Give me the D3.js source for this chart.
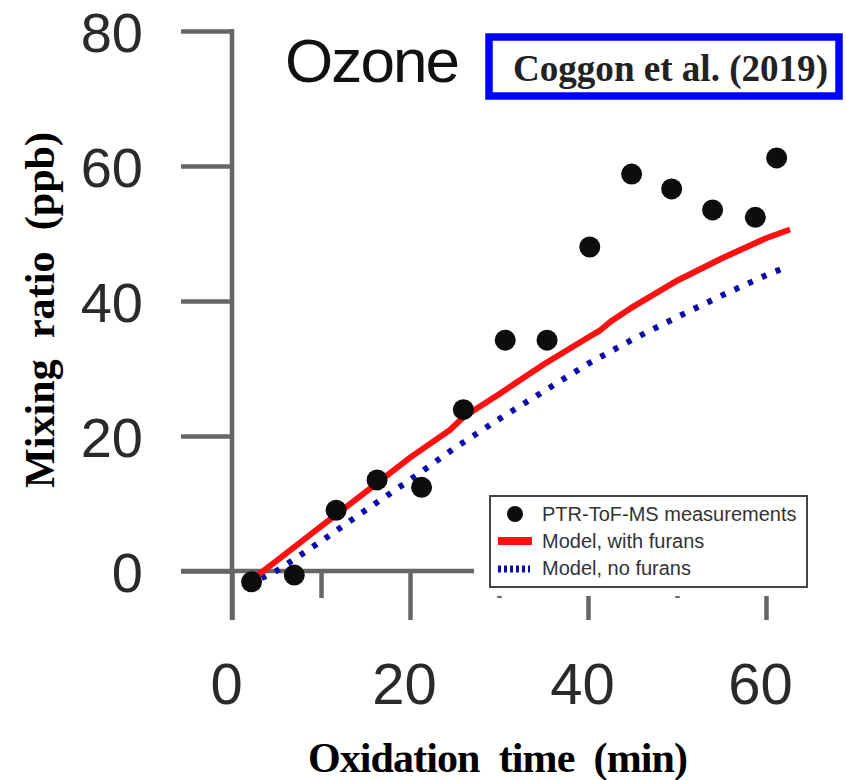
<!DOCTYPE html>
<html lang="en">
<head>
<meta charset="UTF-8">
<title>Ozone - Coggon et al. (2019)</title>
<script src="https://d3js.org/d3.v7.min.js"></script>
<style>
  body { margin: 0; background: #fff; }
  svg { display: block; }
  .axis text { font-family: "Liberation Sans", Arial, sans-serif; font-size: 58px; fill: #2a2a2a; }
  .y-axis text { font-size: 56px; }
  .axis line { stroke: #666; stroke-width: 4.5; }
  .axis-title { font-family: "Liberation Serif", "Times New Roman", serif; font-weight: bold; font-size: 42px; fill: #000; white-space: pre; }
  .legend-text { font-family: "Liberation Sans", Arial, sans-serif; font-size: 20px; fill: #333; }
</style>
</head>
<body>
<svg width="846" height="780"></svg>
<script>
// PTR-ToF-MS measured ozone (ppb) vs oxidation time (min)
const measTime  = [2.2, 7.0, 11.7, 16.3, 21.3, 26.0, 30.7, 35.4, 40.2, 44.9, 49.4, 54.0, 58.8, 61.2];
const measOzone = [-1.6, -0.6, 9.0, 13.5, 12.4, 23.9, 34.2, 34.2, 48.0, 58.8, 56.6, 53.5, 52.4, 61.2];

// model, with furans
const furTime  = [1.5, 5, 10, 15, 20, 24.5, 26, 30, 35, 40, 41.3, 42.6, 45, 50, 55, 60, 62.7];
const furOzone = [-2.0, 1.5, 6.6, 11.7, 16.8, 20.9, 22.8, 26.2, 30.6, 34.6, 35.6, 37.0, 39.1, 43.0, 46.3, 49.3, 50.6];

// model, no furans
const noFurTime  = [1.8, 5, 10, 15, 20, 25, 30, 35, 40, 45, 50, 55, 60, 62.2];
const noFurOzone = [-2.0, 0.0, 4.4, 9.0, 13.5, 18.2, 22.5, 26.6, 30.7, 34.3, 37.6, 40.8, 43.8, 45.0];

const xTicks = [0, 20, 40, 60];
const xMinor = [10, 30, 50];
const yTicks = [0, 20, 40, 60, 80];

const svg = d3.select("svg");

const x = d3.scaleLinear().domain([0, 60]).range([232, 766]);
const y = d3.scaleLinear().domain([0, 80]).range([571, 31]);

// y axis
const yAxis = d3.axisLeft(y).tickValues(yTicks).tickSize(51).tickSizeOuter(0).tickPadding(38);
const gy = svg.append("g").attr("class", "axis y-axis").attr("transform", `translate(${x(0)},0)`).call(yAxis);
gy.select(".domain").remove();
gy.selectAll("text").attr("dy", "0.37em");
svg.append("line")
    .attr("x1", x(0)).attr("x2", x(0))
    .attr("y1", y(80) - 2).attr("y2", y(0) + 49)
    .attr("stroke", "#666").attr("stroke-width", 4.5);

// x axis
const xAxis = d3.axisBottom(x).tickValues(xTicks).tickSize(49).tickSizeOuter(0).tickPadding(43);
const gx = svg.append("g").attr("class", "axis").attr("transform", `translate(0,${y(0)})`).call(xAxis);
gx.select(".domain").remove();
gx.selectAll("text").attr("dx", -6);
const xMinorAxis = d3.axisBottom(x).tickValues(xMinor).tickSize(27).tickSizeOuter(0).tickFormat("");
const gxm = svg.append("g").attr("class", "axis").attr("transform", `translate(0,${y(0)})`).call(xMinorAxis);
gxm.select(".domain").remove();
svg.append("line")
    .attr("x1", x(0) - 51).attr("x2", x(62))
    .attr("y1", y(0)).attr("y2", y(0))
    .attr("stroke", "#666").attr("stroke-width", 4.5);

// model lines
const line = d3.line().x(d => x(d[0])).y(d => y(d[1]));
svg.append("path")
    .datum(noFurTime.map((t, i) => [t, noFurOzone[i]]))
    .attr("d", line)
    .attr("fill", "none")
    .attr("stroke", "#0b0ba6")
    .attr("stroke-width", 6)
    .attr("stroke-dasharray", "5,10");
svg.append("path")
    .datum(furTime.map((t, i) => [t, furOzone[i]]))
    .attr("d", line)
    .attr("fill", "none")
    .attr("stroke", "#ff1010")
    .attr("stroke-width", 6);

// measurements
svg.selectAll(".meas")
    .data(measTime.map((t, i) => [t, measOzone[i]]))
    .join("circle")
    .attr("class", "meas")
    .attr("cx", d => x(d[0]))
    .attr("cy", d => y(d[1]))
    .attr("r", 10.5)
    .attr("fill", "#0d0d0d");

// title
svg.append("text")
    .attr("x", 285).attr("y", 82)
    .attr("textLength", 175)
    .attr("font-family", "Liberation Sans, Arial, sans-serif")
    .attr("font-size", 62)
    .attr("fill", "#111")
    .text("Ozone");

// citation box
svg.append("rect")
    .attr("x", 489).attr("y", 37).attr("width", 350).attr("height", 59)
    .attr("fill", "#fff").attr("stroke", "#0000ff").attr("stroke-width", 7.5);
svg.append("text")
    .attr("x", 513).attr("y", 81)
    .attr("textLength", 315)
    .attr("lengthAdjust", "spacingAndGlyphs")
    .attr("font-family", "Liberation Serif, Times New Roman, serif")
    .attr("font-weight", "bold")
    .attr("font-size", 38)
    .attr("fill", "#222")
    .text("Coggon et al. (2019)");

// axis titles
svg.append("text")
    .attr("class", "axis-title")
    .attr("x", 498).attr("y", 772)
    .attr("text-anchor", "middle")
    .attr("textLength", 380)
    .text("Oxidation  time  (min)");
svg.append("text")
    .attr("class", "axis-title")
    .attr("transform", "translate(54,310) rotate(-90)")
    .attr("text-anchor", "middle")
    .attr("textLength", 356)
    .text("Mixing  ratio  (ppb)");

// legend (white background hides the axis underneath)
svg.append("rect")
    .attr("x", 474).attr("y", 488).attr("width", 345).attr("height", 108)
    .attr("fill", "#fff");
const lg = svg.append("g");
lg.append("rect")
    .attr("x", 490).attr("y", 496).attr("width", 317).attr("height", 91)
    .attr("fill", "#fff").attr("stroke", "#444").attr("stroke-width", 2);
lg.append("circle").attr("cx", 515).attr("cy", 514).attr("r", 8).attr("fill", "#0d0d0d");
lg.append("line").attr("x1", 498).attr("x2", 532).attr("y1", 541).attr("y2", 541)
    .attr("stroke", "#ff1010").attr("stroke-width", 8);
lg.append("line").attr("x1", 498).attr("x2", 530).attr("y1", 569).attr("y2", 569)
    .attr("stroke", "#0b0ba6").attr("stroke-width", 7).attr("stroke-dasharray", "3,3");
const legendLabels = ["PTR-ToF-MS measurements", "Model, with furans", "Model, no furans"];
lg.selectAll(".legend-text")
    .data(legendLabels)
    .join("text")
    .attr("class", "legend-text")
    .attr("x", 542)
    .attr("y", (d, i) => 521 + i * 27)
    .text(d => d);
</script>
</body>
</html>
